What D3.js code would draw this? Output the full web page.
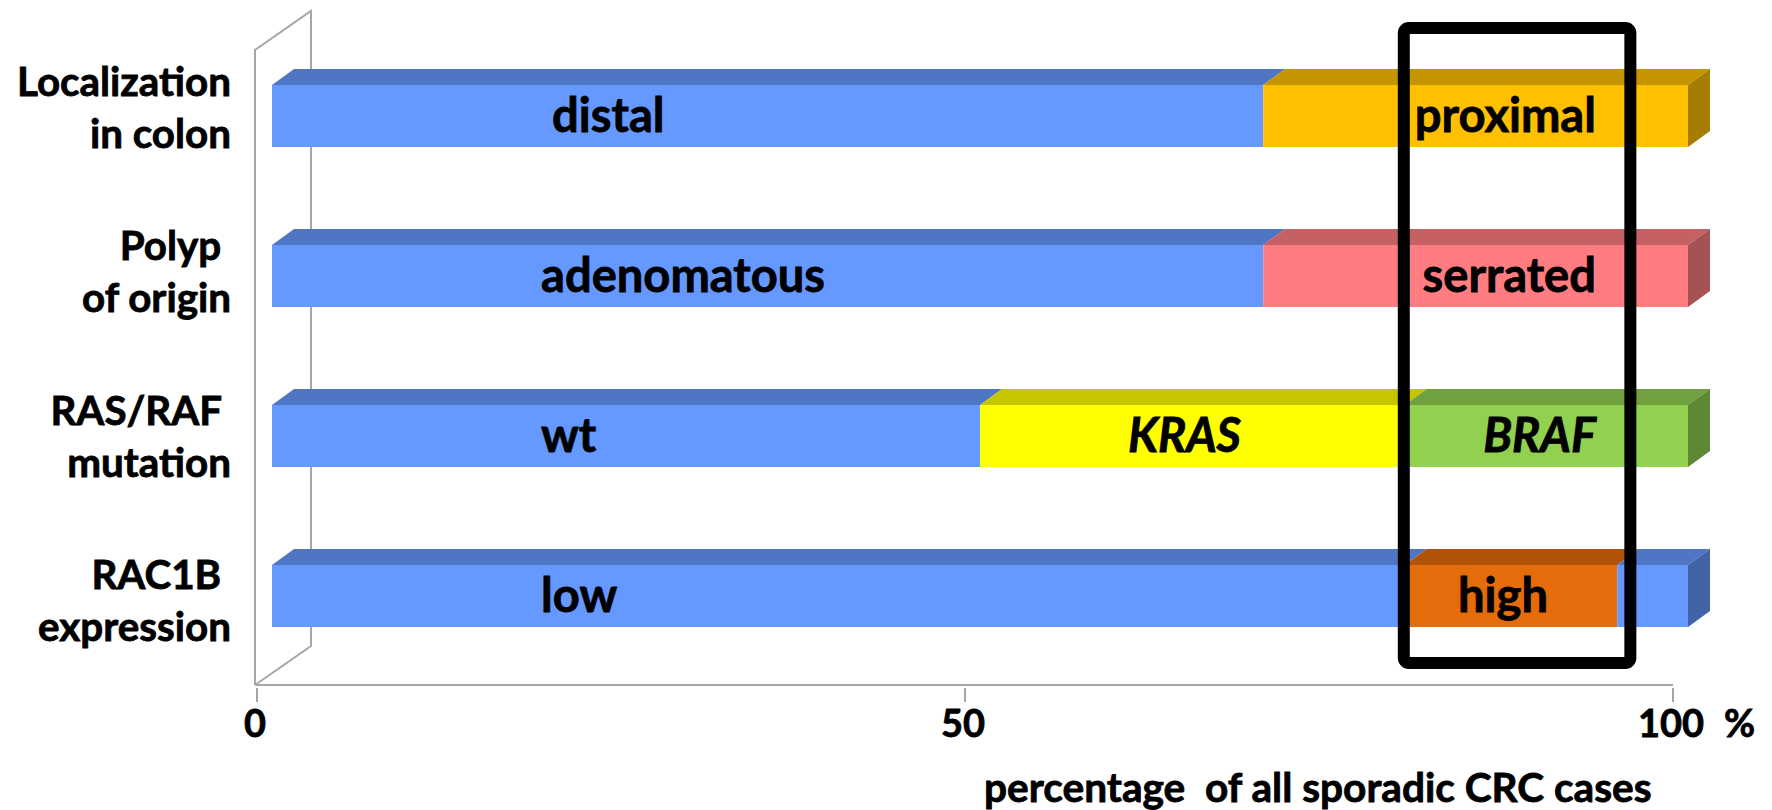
<!doctype html>
<html lang="en">
<head>
  <meta charset="utf-8">
  <title>Sporadic CRC cases</title>
</head>
<style>
body { margin: 0; background: #fff; }
text { font-family: Lato, "Open Sans", sans-serif; font-weight: bold; fill: #000;
       stroke: #000; stroke-width: 0.8px; paint-order: stroke; }
</style>
<body>
  <script src="https://cdn.jsdelivr.net/npm/d3@7"></script>
  <script>

	// categories (two lines each), segment values in %, segment labels
	var categories = [["Localization", "in colon"], ["Polyp\u00a0", "of origin"], ["RAS/RAF\u00a0", "mutation"], ["RAC1B\u00a0", "expression"]];
	var segValues = [[70, 30], [70, 30], [50, 30, 20], [80, 15, 5]];
	var segLabels = [["distal", "proximal"], ["adenomatous", "serrated"], ["wt", "KRAS", "BRAF"], ["low", "high", ""]];
	var tickValues = [0, 50, 100];
	var highlight = [80, 96];

	var palette = {
		distal: "#6699FF", proximal: "#FFC000", adenomatous: "#6699FF", serrated: "#FF7C80",
		wt: "#6699FF", KRAS: "#FFFF00", BRAF: "#92D050", low: "#6699FF", high: "#E46C0A", "": "#6699FF"
	};
	var italics = ["KRAS", "BRAF"];

	var svg = d3.select("body").append("svg")
		.attr("width", 1772)
		.attr("height", 810);

	var x = d3.scaleLinear().domain([0, 100]).range([257, 1673]);
	var y = d3.scaleBand().domain(d3.range(categories.length))
		.range([85, 627])
		.paddingInner(0.6125)
		.paddingOuter(0);
	// the category texts sit on a slightly wider spacing than the bars
	var yLabel = d3.scalePoint().domain(d3.range(categories.length)).range([122, 615]);

	var barShift = 15, bdx = 22, bdy = -16;     // bar offset and bar depth
	var wdx = 56, wdy = -39;                    // wall depth
	var floorY = 685, wallTop = 50;
	var grey = "#A6A6A6";

	function xb(v) { return x(v) + barShift; }

	// pick a font size so a sample string gets a given width
	function fitSize(str, target, italic) {
		var t = svg.append("text").attr("font-size", 100)
			.style("font-style", italic ? "italic" : "normal").text(str);
		var w = t.node().getComputedTextLength();
		t.remove();
		return 100 * target / w;
	}

	var catSize = fitSize("Localization", 214);
	var barSize = fitSize("adenomatous", 284);
	var tickSize = fitSize("100", 66);
	var titleSize = fitSize("percentage of all sporadic CRC cases", 658);

	// back wall and floor
	var wall = svg.append("g").attr("fill", "none").attr("stroke", grey).attr("stroke-width", 2);
	var x0 = x(0) - 2;
	wall.append("path").attr("d",
		"M" + x0 + "," + floorY + "V" + wallTop + "l" + wdx + "," + wdy + "V" + (floorY + wdy) + "L" + x0 + "," + floorY);
	wall.append("line").attr("x1", x0).attr("x2", x(100)).attr("y1", floorY).attr("y2", floorY);

	// ticks
	svg.selectAll(".tick")
		.data(tickValues)
		.join("line")
		.attr("x1", d => x(d)).attr("x2", d => x(d))
		.attr("y1", floorY + 3).attr("y2", floorY + 17)
		.attr("stroke", grey).attr("stroke-width", 2);

	svg.selectAll(".ticklabel")
		.data(tickValues)
		.join("text")
		.attr("x", d => x(d) - 2)
		.attr("y", 737)
		.attr("text-anchor", "middle")
		.attr("font-size", tickSize)
		.text(d => d);

	svg.append("text")
		.attr("x", 1724).attr("y", 737)
		.attr("font-size", tickSize)
		.text("%");

	svg.append("text")
		.attr("x", 984).attr("y", 802)
		.attr("font-size", titleSize)
		.style("white-space", "pre")
		.text("percentage  of all sporadic CRC cases");

	// flatten segments
	var segs = [];
	segValues.forEach(function (row, i) {
		var acc = 0;
		row.forEach(function (v, j) {
			segs.push({ cat: i, idx: j, n: row.length, v0: acc, v1: acc + v, label: segLabels[i][j] });
			acc += v;
		});
	});

	var bh = y.bandwidth();

	function topFace(d) {
		var a = xb(d.v0), b = xb(d.v1), t = y(d.cat);
		return [[a, t], [a + bdx, t + bdy], [b + bdx, t + bdy], [b, t]].join(" ");
	}
	function sideFace(d) {
		var b = xb(d.v1), t = y(d.cat);
		return [[b, t], [b + bdx, t + bdy], [b + bdx, t + bdy + bh], [b, t + bh]].join(" ");
	}

	var bars = svg.append("g");

	bars.selectAll(".top")
		.data(segs)
		.join("polygon")
		.attr("points", topFace)
		.attr("fill", d => d3.color(palette[d.label]).darker(0.73));

	bars.selectAll(".side")
		.data(segs.filter(d => d.v1 === 100))
		.join("polygon")
		.attr("points", sideFace)
		.attr("fill", d => d3.color(palette[d.label]).darker(1.2));

	bars.selectAll(".front")
		.data(segs)
		.join("rect")
		.attr("x", d => xb(d.v0))
		.attr("y", d => y(d.cat))
		.attr("width", d => xb(d.v1) - xb(d.v0))
		.attr("height", bh)
		.attr("fill", d => palette[d.label]);

	// labels inside the bars
	svg.selectAll(".seglabel")
		.data(segs.filter(d => d.label !== ""))
		.join("text")
		.attr("x", function (d) {
			if (d.idx === 0) return xb(19) + (d.label === "distal" ? 11 : 0);
			if (d.v1 === 100) return xb(93.5);
			return xb((d.v0 + d.v1) / 2) - 8;
		})
		.attr("text-anchor", function (d) {
			if (d.idx === 0) return "start";
			if (d.v1 === 100) return "end";
			return "middle";
		})
		.attr("y", d => y(d.cat) + bh / 2 + 16)
		.attr("font-size", barSize)
		.style("font-style", d => italics.includes(d.label) ? "italic" : "normal")
		.text(d => d.label);

	// category labels
	var cats = svg.selectAll(".cat")
		.data(categories)
		.join("text")
		.attr("text-anchor", "end")
		.attr("font-size", catSize)
		.style("white-space", "pre");

	cats.selectAll("tspan")
		.data((d, i) => d.map(s => ({ s: s, i: i })))
		.join("tspan")
		.attr("x", 231)
		.attr("y", (d, k) => yLabel(d.i) + (k === 0 ? -26 : 26))
		.text(d => d.s);

	// highlight box
	svg.append("rect")
		.attr("x", xb(highlight[0]) - 1)
		.attr("y", y(0) - 57)
		.attr("width", xb(highlight[1]) - xb(highlight[0]))
		.attr("height", y(categories.length - 1) + bh + 36 - (y(0) - 57))
		.attr("rx", 5)
		.attr("fill", "none")
		.attr("stroke", "#000")
		.attr("stroke-width", 12);

  </script>
</body>
</html>
